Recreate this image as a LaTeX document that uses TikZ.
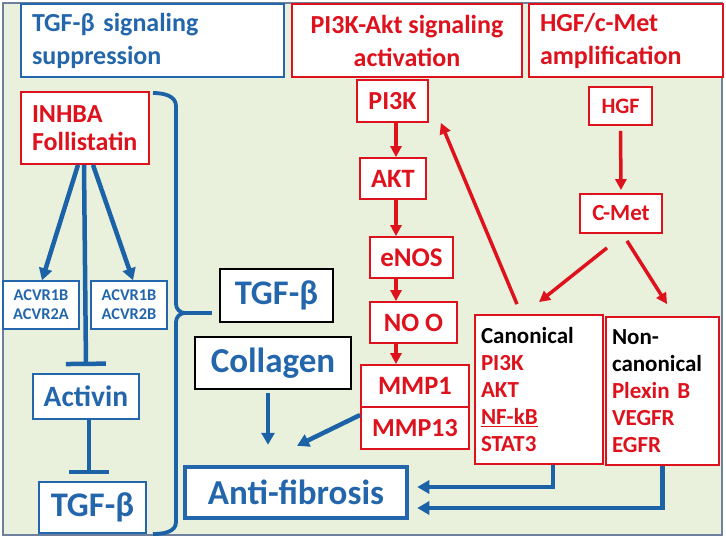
\documentclass[tikz,border=0pt]{standalone}
\usepackage{fontspec}
\setmainfont{Carlito}
\usetikzlibrary{arrows.meta,calc}
\definecolor{tblue}{RGB}{36,102,172}
\definecolor{lblue}{RGB}{28,98,166}
\definecolor{tred}{RGB}{222,18,28}
\definecolor{bgreen}{RGB}{233,240,220}
\definecolor{bgborder}{RGB}{110,128,158}
\newcommand{\fs}[2]{\fontsize{#1}{#2}\selectfont}
\tikzset{
  every node/.style={font=\bfseries},
  rbox/.style={draw=tred, line width=1.8pt, fill=white, text=tred, inner sep=0pt},
  bbox/.style={draw=tblue, line width=1.8pt, fill=white, text=tblue, inner sep=0pt},
  kbox/.style={draw=black, line width=1.8pt, fill=white, text=tblue, inner sep=0pt},
  rarr/.style={draw=tred, line width=3.5pt, -{Triangle[length=11pt,width=11pt]}},
  barr/.style={draw=lblue, line width=4.5pt, -{Triangle[length=12pt,width=13pt]}},
  inhib/.style={draw=lblue, line width=4.5pt, -{Bar[width=40pt,length=4.5pt]}},
}
\begin{document}
\begin{tikzpicture}[x=1pt,y=-1pt]
\useasboundingbox (0,0) rectangle (726,540);
\fill[white] (0,0) rectangle (726,540);
\draw[fill=bgreen, draw=bgborder, line width=1.5pt] (3,3) rectangle (722,535);

% titles
\node[bbox, line width=2.4pt, minimum width=263pt, minimum height=73pt, text width=241pt, align=left, font=\bfseries\fs{26}{33}] (t1) at (152.5,40.5) {TGF-β signaling\\suppression};
\node[rbox, line width=2.4pt, minimum width=230pt, minimum height=73pt, align=center, font=\bfseries\fs{26}{33}] (t2) at (407,40.5) {PI3K-Akt signaling\\activation};
\node[rbox, line width=2.4pt, minimum width=194pt, minimum height=73pt, text width=172pt, align=left, font=\bfseries\fs{26}{33}] (t3) at (626,40.5) {HGF/c-Met\\amplification};

% left panel
\node[rbox, minimum width=128pt, minimum height=72pt, text width=106pt, align=left, font=\bfseries\fs{26}{28}] (inhba) at (85,128) {INHBA\\Follistatin};
\node[bbox, line width=1.4pt, minimum width=76pt, minimum height=48pt, align=center, font=\bfseries\fs{16.4}{18.7}] (acvrA) at (41,305) {ACVR1B\\ACVR2A};
\node[bbox, line width=1.4pt, minimum width=76pt, minimum height=48pt, align=center, font=\bfseries\fs{16.4}{18.7}] (acvrB) at (129,305) {ACVR1B\\ACVR2B};
\node[bbox, minimum width=106pt, minimum height=45pt, font=\bfseries\fs{29.5}{30}] (activin) at (86,396.5) {Activin};
\node[bbox, minimum width=107pt, minimum height=51pt, font=\bfseries\fs{34.5}{36}] (tgfb1) at (92.5,507.5) {TGF-β};

% middle
\node[kbox, minimum width=113pt, minimum height=53pt, font=\bfseries\fs{34.5}{36}] (tgfb2) at (276.5,295.5) {TGF-β};
\node[kbox, minimum width=156pt, minimum height=52pt, font=\bfseries\fs{35}{36}] (collagen) at (273,363) {Collagen};
\node[draw=tblue, line width=4.5pt, fill=white, text=tblue, inner sep=0pt, minimum width=222pt, minimum height=51pt, font=\bfseries\fs{35}{36}] (anti) at (296,492.5) {Anti-fibrosis};

% PI3K column
\node[rbox, minimum width=71pt, minimum height=42pt, font=\bfseries\fs{26}{28}] (pi3k) at (392.5,101) {PI3K};
\node[rbox, minimum width=66pt, minimum height=41pt, font=\bfseries\fs{26.5}{28}] (akt) at (393,178.5) {AKT};
\node[rbox, minimum width=83pt, minimum height=41pt, font=\bfseries\fs{27}{28}] (enos) at (411.5,257.5) {eNOS};
\node[rbox, minimum width=87pt, minimum height=41pt, font=\bfseries\fs{26.5}{28}] (noo) at (413.5,322.5) {NO O};
\node[rbox, minimum width=108pt, minimum height=42pt, font=\bfseries\fs{26.5}{28}] (mmp1) at (415,386) {MMP1};
\node[rbox, minimum width=108pt, minimum height=42pt, font=\bfseries\fs{26}{28}] (mmp13) at (415,428) {MMP13};

% HGF column
\node[rbox, minimum width=63pt, minimum height=38pt, font=\bfseries\fs{22}{24}] (hgf) at (620.5,106) {HGF};
\node[rbox, minimum width=82pt, minimum height=39pt, font=\bfseries\fs{23}{24}] (cmet) at (621,213.5) {C-Met};
\node[rbox, minimum width=128pt, minimum height=149pt, text width=116pt, align=left, font=\bfseries\fs{23}{27}] (canon) at (539,389.5) {\textcolor{black}{Canonical}\\PI3K\\AKT\\\underline{NF-kB}\\STAT3};
\node[rbox, minimum width=113pt, minimum height=148pt, text width=101pt, align=left, font=\bfseries\fs{23}{27}] (noncanon) at (662.5,391) {\textcolor{black}{Non-}\\\textcolor{black}{canonical}\\Plexin B\\VEGFR\\EGFR};

% left connectors
\draw[barr] ([xshift=-7pt]inhba.south) -- ([xshift=1pt]acvrA.north);
\draw[barr] ([xshift=8pt]inhba.south) -- ([xshift=4pt]acvrB.north);
\draw[inhib] ([xshift=-1pt]inhba.south) -- ([yshift=7pt]activin.north);
\draw[inhib] ([xshift=3pt]activin.south) -- ($(activin.south |- tgfb1.north)+(3,-7)$);

% brace
\coordinate (brtip) at (185,313);
\draw[lblue, line width=3.8pt] (153,93) to[out=0,in=90] (176,106) -- (176,304) to[out=-90,in=180] (brtip) to[out=180,in=90] (176,322) -- (176,522) to[out=-90,in=0] (153,534);
\draw[lblue, line width=3.8pt] (brtip) -- ([xshift=-7pt]brtip -| tgfb2.west);

% middle arrows
\draw[barr] ([xshift=-5pt,yshift=-3pt]collagen.south) -- ([xshift=-28pt,yshift=20pt]anti.north);
\draw[barr] ([yshift=13pt]mmp13.west) -- ([xshift=1pt,yshift=19pt]anti.north);

% PI3K column arrows
\coordinate (col) at (396,0);
\draw[rarr] (pi3k.south -| col) -- (akt.north -| col);
\draw[rarr] (akt.south -| col) -- (enos.north -| col);
\draw[rarr] (enos.south -| col) -- (noo.north -| col);
\draw[rarr] (noo.south -| col) -- (mmp1.north -| col);

% HGF arrows
\draw[rarr, shorten <=5pt, shorten >=3pt] (hgf.south) -- (cmet.north);
\draw[rarr] ([xshift=-14pt,yshift=-14pt]cmet.south) -- ([yshift=12pt]canon.north);
\draw[rarr] ([xshift=6pt,yshift=-7pt]cmet.south) -- ([xshift=4.5pt,yshift=12pt]noncanon.north);
\draw[rarr] ([xshift=-22pt,yshift=10pt]canon.north) -- ([xshift=12pt]pi3k.south east);

% to anti-fibrosis
\draw[barr] ([xshift=14pt]canon.south) |- ([xshift=8pt,yshift=5.5pt]anti.east);
\draw[barr] (noncanon.south) |- ([xshift=8pt,yshift=-15.5pt]anti.east);
\end{tikzpicture}
\end{document}
